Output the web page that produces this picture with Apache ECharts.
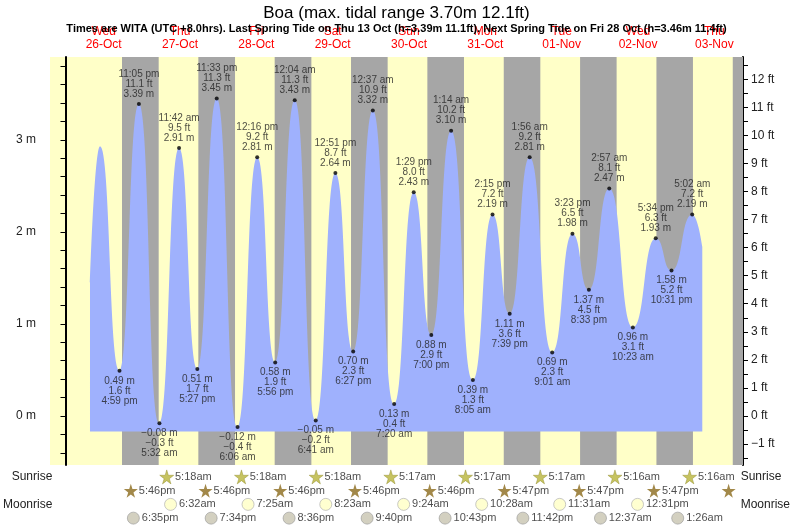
<!DOCTYPE html>
<html><head><meta charset="utf-8">
<script src="https://cdn.jsdelivr.net/npm/echarts@6/dist/echarts.min.js"></script>
<style>html,body{margin:0;padding:0;background:#fff}#c{width:793px;height:525px}</style>
</head><body><div id="c"></div>
<script>
// hours since Wed 26-Oct 00:00 (WITA)
const tideHours = [7.7,10.85,16.98,23.08,29.53,35.7,41.45,47.55,54.1,60.27,65.93,72.07,78.68,84.85,90.45,96.62,103.33,109.48,115.0,121.23,128.08,134.25,139.65,145.93,153.02,159.38,164.55,170.95,178.38,185.57,190.52,197.03,200.2];
const tideMeters = [1.45,2.93,0.49,3.39,-0.08,2.91,0.51,3.45,-0.12,2.81,0.58,3.43,-0.05,2.64,0.70,3.32,0.13,2.43,0.88,3.10,0.39,2.19,1.11,2.81,0.69,1.98,1.37,2.47,0.96,1.93,1.58,2.19,1.84];
// labelled extremes
const extIdx   = [2,3,4,5,6,7,8,9,10,11,12,13,14,15,16,17,18,19,20,21,22,23,24,25,26,27,28,29,30,31];
const extFeet  = ['1.6','11.1','−0.3','9.5','1.7','11.3','−0.4','9.2','1.9','11.3','−0.2','8.7','2.3','10.9','0.4','8.0','2.9','10.2','1.3','7.2','3.6','9.2','2.3','6.5','4.5','8.1','3.1','6.3','5.2','7.2'];
const extTimes = ['4:59 pm','11:05 pm','5:32 am','11:42 am','5:27 pm','11:33 pm','6:06 am','12:16 pm','5:56 pm','12:04 am','6:41 am','12:51 pm','6:27 pm','12:37 am','7:20 am','1:29 pm','7:00 pm','1:14 am','8:05 am','2:15 pm','7:39 pm','1:56 am','9:01 am','3:23 pm','8:33 pm','2:57 am','10:23 am','5:34 pm','10:31 pm','5:02 am'];
const extHigh  = [0,1,0,1,0,1,0,1,0,1,0,1,0,1,0,1,0,1,0,1,0,1,0,1,0,1,0,1,0,1];
const dayNoon  = [12,36,60,84,108,132,156,180,204];
const dayNames = ['Wed','Thu','Fri','Sat','Sun','Mon','Tue','Wed','Thu'];
const dayDates = ['26-Oct','27-Oct','28-Oct','29-Oct','30-Oct','31-Oct','01-Nov','02-Nov','03-Nov'];
const sunriseH = [29.3,53.3,77.3,101.283,125.283,149.283,173.267,197.267];
const sunriseT = ['5:18am','5:18am','5:18am','5:17am','5:17am','5:17am','5:16am','5:16am'];
const sunsetH  = [17.767,41.767,65.767,89.767,113.767,137.783,161.783,185.783,209.783];
const sunsetT  = ['5:46pm','5:46pm','5:46pm','5:46pm','5:46pm','5:47pm','5:47pm','5:47pm',''];
const moonriseH = [30.533,55.417,80.383,105.4,130.467,155.517,180.517];
const moonriseT = ['6:32am','7:25am','8:23am','9:24am','10:28am','11:31am','12:31pm'];
const moonsetH  = [18.583,43.567,68.6,93.667,118.717,143.7,168.617,193.433];
const moonsetT  = ['6:35pm','7:34pm','8:36pm','9:40pm','10:43pm','11:42pm','12:37am','1:26am'];

const XMIN=-4.87, XMAX=213, YMIN=-0.533, YMAX=3.90, FT=0.3048;
const FONT='Liberation Sans';
const nights = sunsetH.map((s,i)=>[{xAxis:s},{xAxis: i<sunriseH.length? sunriseH[i] : XMAX}]);
const mTicks=[]; for(let v=-4;v<=38;v++) mTicks.push(v/10*2>YMAX?null:v*0.1); 
const mMinor=[]; for(let v=-2;v<=19;v++) mMinor.push(+(v*0.2).toFixed(2));
const fMinor=[]; for(let v=-3;v<=25;v++) fMinor.push(v*0.5);
const fMajor=[]; for(let v=-1;v<=12;v++) fMajor.push(v);

const extData = extIdx.map((k,i)=>({value:[tideHours[k],tideMeters[k]],
  label:{position: extHigh[i]?'top':'bottom',
    formatter: extHigh[i] ? extTimes[i]+'\n'+extFeet[i]+' ft\n'+tideMeters[k].toFixed(2)+' m'
                          : tideMeters[k].toFixed(2).replace('-','−')+' m\n'+extFeet[i]+' ft\n'+extTimes[i]}}));

const chart = echarts.init(document.getElementById('c'));
const rowLbl = {fontFamily:FONT,fontSize:12,color:'#222'};
chart.setOption({
  animation:false,
  textStyle:{fontFamily:FONT},
  title:[{text:'Boa (max. tidal range 3.70m 12.1ft)',left:'center',top:0,textStyle:{fontFamily:FONT,fontSize:17,fontWeight:'normal',color:'#000'}},
         {text:'Times are WITA (UTC +8.0hrs). Last Spring Tide on Thu 13 Oct (h=3.39m 11.1ft). Next Spring Tide on Fri 28 Oct (h=3.46m 11.4ft)',left:'center',top:18,textStyle:{fontFamily:FONT,fontSize:11,fontWeight:'bold',color:'#000'}}],
  grid:[{left:50,right:50,top:57,height:408,backgroundColor:'#ffffc8',show:true,borderWidth:0},
        {left:50,right:50,top:470,height:56}],
  xAxis:[
    {gridIndex:0,type:'value',min:XMIN,max:XMAX,position:'top',axisLine:{show:false},axisTick:{show:false},splitLine:{show:false},
     axisLabel:{customValues:dayNoon,margin:6,color:'#ff0000',fontSize:12,fontFamily:FONT,lineHeight:13,
       formatter:v=>{const i=dayNoon.indexOf(v);return dayNames[i]+'\n'+dayDates[i];}}},
    {gridIndex:1,type:'value',min:XMIN,max:XMAX,show:false}
  ],
  yAxis:[
    {gridIndex:0,type:'value',min:YMIN,max:YMAX,position:'left',splitLine:{show:false},
     axisLine:{show:true,lineStyle:{color:'#000',width:2}},
     axisTick:{customValues:mMinor,length:5,inside:false,lineStyle:{color:'#000'}},
     axisLabel:{customValues:[0,1,2,3],formatter:v=>v+' m',fontSize:12,color:'#222',fontFamily:FONT,margin:14}},
    {gridIndex:0,type:'value',min:YMIN/FT,max:YMAX/FT,position:'right',splitLine:{show:false},
     axisLine:{show:true,lineStyle:{color:'#000',width:2}},
     axisTick:{customValues:fMinor,length:5,lineStyle:{color:'#000'}},
     axisLabel:{customValues:fMajor,formatter:v=>(v<0?'−'+(-v):v)+' ft',fontSize:12,color:'#222',fontFamily:FONT,margin:8}},
    {gridIndex:1,type:'category',inverse:true,data:['Sunrise','Sunset','Moonrise','Moonset'],position:'left',
     axisLine:{show:false},axisTick:{show:false},axisLabel:Object.assign({margin:8},rowLbl)},
    {gridIndex:1,type:'category',inverse:true,data:['Sunrise','Sunset','Moonrise','Moonset'],position:'right',
     axisLine:{show:false},axisTick:{show:false},axisLabel:Object.assign({margin:2,align:'left'},rowLbl)}
  ],
  series:[
    {type:'line',xAxisIndex:0,yAxisIndex:0,data:[],z:1,silent:true,
     markArea:{silent:true,itemStyle:{color:'#a6a6a6'},data:nights}},
    {type:'line',xAxisIndex:0,yAxisIndex:0,z:2,symbol:'none',smooth:0.55,smoothMonotone:'x',
     data:tideHours.map((h,i)=>[h,tideMeters[i]]),
     lineStyle:{width:0},areaStyle:{color:'#9fb1fd',opacity:1,origin:-0.17}},
    {type:'scatter',xAxisIndex:0,yAxisIndex:0,z:3,symbolSize:4,itemStyle:{color:'#000'},data:extData,
     label:{show:true,fontSize:10,lineHeight:10,color:'#222',fontFamily:FONT,distance:3}},
    {type:'scatter',xAxisIndex:1,yAxisIndex:2,symbol:'path://M50,0 L61,35 L98,35 L68,57 L79,91 L50,70 L21,91 L32,57 L2,35 L39,35 Z',symbolSize:14,
     itemStyle:{color:'#b8b43a',borderColor:'#8a8420',borderWidth:0.5},
     data:sunriseH.map((h,i)=>({value:[h,'Sunrise'],label:{formatter:sunriseT[i]}})),
     label:{show:true,position:'right',distance:1,fontSize:11,color:'#222',fontFamily:FONT}},
    {type:'scatter',xAxisIndex:1,yAxisIndex:2,symbol:'path://M50,0 L61,35 L98,35 L68,57 L79,91 L50,70 L21,91 L32,57 L2,35 L39,35 Z',symbolSize:14,
     itemStyle:{color:'#8b6a1c'},
     data:sunsetH.map((h,i)=>({value:[h,'Sunset'],label:{formatter:sunsetT[i]}})),
     label:{show:true,position:'right',distance:1,fontSize:11,color:'#222',fontFamily:FONT}},
    {type:'scatter',xAxisIndex:1,yAxisIndex:2,symbol:'circle',symbolSize:12,
     itemStyle:{color:'#ffffc4',borderColor:'#aaa',borderWidth:0.8},
     data:moonriseH.map((h,i)=>({value:[h,'Moonrise'],label:{formatter:moonriseT[i]}})),
     label:{show:true,position:'right',distance:2,fontSize:11,color:'#222',fontFamily:FONT}},
    {type:'scatter',xAxisIndex:1,yAxisIndex:2,symbol:'circle',symbolSize:12,
     itemStyle:{color:'#c8c4b0',borderColor:'#999',borderWidth:0.8},
     data:moonsetH.map((h,i)=>({value:[h,'Moonset'],label:{formatter:moonsetT[i]}})),
     label:{show:true,position:'right',distance:2,fontSize:11,color:'#222',fontFamily:FONT}}
  ]
});
</script></body></html>
